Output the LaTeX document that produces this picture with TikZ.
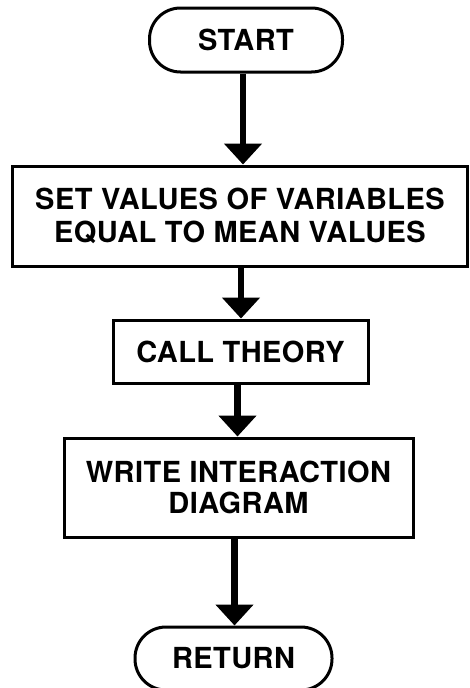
\documentclass[tikz,border=0pt]{standalone}
\usepackage{fontspec}
\setmainfont[LetterSpace=1.5]{TeX Gyre Heros}
\usetikzlibrary{arrows.meta}
\begin{document}
\begin{tikzpicture}[x=1pt,y=-1pt,
  lbl/.style={font=\bfseries\fontsize{29}{31.5}\selectfont, align=center, inner sep=0pt},
  term/.style={lbl, draw, line width=3pt, rounded corners=31pt},
  proc/.style={lbl, draw, line width=3pt},
  arr/.style={line width=6.5pt, -{Triangle[width=37pt,length=21pt]}}]
\useasboundingbox (0,0) rectangle (469,688);
\node[term, minimum width=193pt, minimum height=64pt] (start) at (246,40) {START};
\node[proc, minimum width=455pt, minimum height=100pt] (set) at (240,216)
  {SET VALUES OF VARIABLES\\[1pt]EQUAL TO MEAN VALUES};
\node[proc, minimum width=255pt, minimum height=63pt] (call) at (240.5,351.5) {CALL THEORY};
\node[proc, minimum width=349pt, minimum height=99pt] (write) at (238.5,487.5)
  {WRITE INTERACTION\\DIAGRAM};
\node[term, minimum width=197pt, minimum height=63pt] (ret) at (233.5,658.5) {RETURN};
\draw[arr] ([xshift=-3pt]start.south) -- ([xshift=-3pt]start.south |- set.north);
\draw[arr] ([xshift=1pt]set.south) -- ([xshift=1pt]set.south |- call.north);
\draw[arr] ([xshift=-3pt]call.south) -- ([xshift=-3pt]call.south |- write.north);
\draw[arr] ([xshift=-4pt]write.south) -- ([xshift=-4pt]write.south |- ret.north);
\end{tikzpicture}
\end{document}
